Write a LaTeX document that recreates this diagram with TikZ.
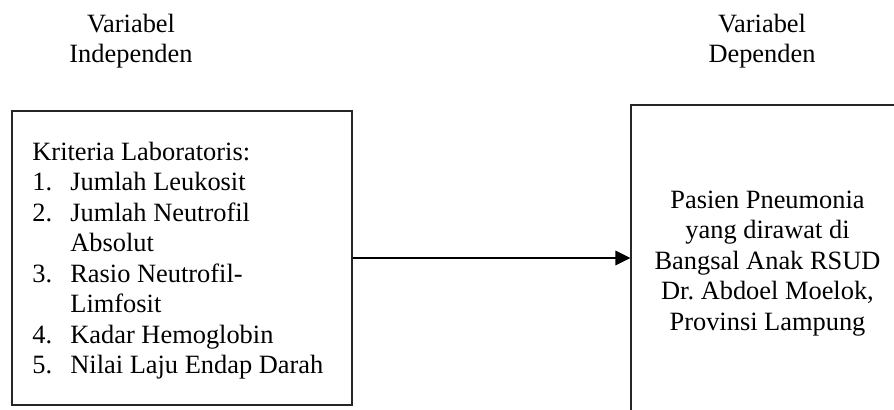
\documentclass[tikz,border=0pt]{standalone}
\usepackage{fontspec}
\setmainfont{Liberation Serif}
\usetikzlibrary{arrows.meta}
\frenchspacing

\tikzset{
  varbox/.style={draw=black!85, line width=0.55pt, rectangle, inner sep=0pt},
  txt/.style={inner sep=0pt, anchor=base, font=\fontsize{13.2}{15.25}\selectfont},
  link/.style={line width=1.4pt, -{Triangle[length=7.5pt,width=7pt]}, shorten >=0pt}
}

\begin{document}
\begin{tikzpicture}[x=0.5pt, y=-0.5pt]
  % picture frame in pixel-like units, y pointing down
  \clip (0,0) rectangle (894,409);

  % column headings
  \node[txt] (hindep) at (131,32) {\begin{tabular}[t]{@{}c@{}}Variabel\\Independen\end{tabular}};
  \node[txt] (hdep) at (762,32) {\begin{tabular}[t]{@{}c@{}}Variabel\\Dependen\end{tabular}};

  % boxes
  \node[varbox, minimum width=170pt, minimum height=147pt] (indep) at (182,258) {};
  \node[varbox, minimum width=136.5pt, minimum height=153pt] (dep) at (767.5,258) {};

  % independent variables
  \node[txt, anchor=base west] (crit) at (32,160) {%
    \begin{tabular}[t]{@{}p{19pt}@{}l@{}}
    \multicolumn{2}{@{}l@{}}{Kriteria Laboratoris:}\\
    1. & Jumlah Leukosit\\
    2. & Jumlah Neutrofil\\
       & Absolut\\
    3. & Rasio Neutrofil-\\
       & Limfosit\\
    4. & Kadar Hemoglobin\\
    5. & Nilai Laju Endap Darah
    \end{tabular}};

  % dependent variable
  \node[txt] (pasien) at (767.5,208) {%
    \begin{tabular}[t]{@{}c@{}}
    Pasien Pneumonia\\
    yang dirawat di\\
    Bangsal Anak RSUD\\
    Dr. Abdoel Moelok,\\
    Provinsi Lampung
    \end{tabular}};

  % relation
  \draw[link] (indep.east) -- (dep.west);
\end{tikzpicture}
\end{document}
